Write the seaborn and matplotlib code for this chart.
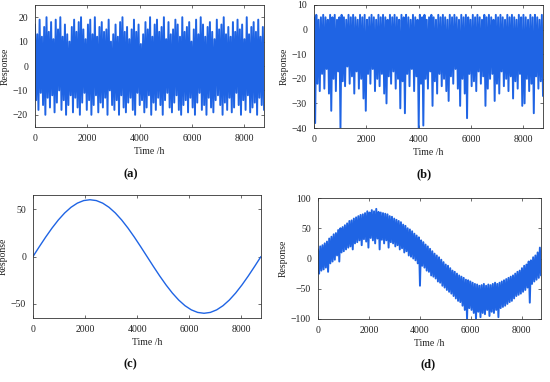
import numpy as np
import pandas as pd
import matplotlib
matplotlib.use("Agg")
import matplotlib.pyplot as plt
import seaborn as sns

# ---------------------------------------
# 0) Settings
# ---------------------------------------
sns.set_theme(style="ticks")
plt.rcParams["font.family"] = ["Liberation Serif", "DejaVu Serif"]
plt.rcParams["axes.unicode_minus"] = True

FIG_W, FIG_H = 550, 382
LINE_COLOR = "#1f64e4"
EDGE_COLOR = "#333333"
T_END = 8760  # hours in one year

X_TICKS = [0, 2000, 4000, 6000, 8000]

# ---------------------------------------
# 1) Data (decimated: alternating peak / trough)
# ---------------------------------------
# (a) zero-mean random response
resp_a = [
    17, -14, 13, -18, 19, -11, 12, -16, 16, -20, 20, -13, 14, -17, 18, -12, 11, -19, 19, -15,
    15, -10, 20, -18, 12, -14, 17, -20, 13, -16, 10, -12, 16, -19, 19, -13, 14, -17, 18, -20,
    20, -15, 15, -11, 11, -18, 17, -14, 19, -20, 13, -16, 20, -12, 12, -19, 16, -15, 18, -17,
    14, -13, 15, -20, 19, -10, 10, -16, 13, -18, 17, -14, 12, -20, 18, -12, 20, -17, 14, -19,
    16, -15, 11, -13, 15, -18, 19, -20, 14, -11, 17, -16, 9, -14, 13, -19, 18, -17, 15, -12,
    20, -20, 12, -15, 17, -18, 19, -13, 14, -16, 16, -20, 20, -14, 11, -11, 18, -17, 13, -19,
    15, -15, 19, -12, 17, -18, 12, -20, 20, -16, 14, -14, 16, -19, 18, -13, 10, -17, 15, -20,
    19, -15, 13, -11, 20, -18, 17, -16, 12, -20, 16, -13, 18, -17, 14, -19, 11, -14, 19, -12,
    15, -16, 17, -20, 20, -15, 13, -18, 16, -13, 12, -19, 18, -17, 14, -11, 19, -16, 15, -20,
    17, -14, 11, -18, 20, -12, 13, -19, 16, -17, 18, -15, 14, -20, 19, -13, 12, -16, 16, -18,
]

# (b) skewed response with deep downward spikes
resp_b = [
    5, -38, 6, -22, 4, -25, 5, -18, 6, -24, 5, -16, 4, -26, 6, -33, 5, -20, 6, -25,
    4, -17, 5, -40, 6, -21, 5, -23, 4, -15, 6, -22, 5, -19, 6, -26, 5, -17, 4, -24,
    6, -20, 5, -28, 6, -33, 4, -18, 5, -22, 6, -16, 5, -25, 4, -20, 6, -23, 5, -18,
    6, -26, 5, -30, 4, -19, 6, -22, 5, -17, 6, -24, 5, -20, 4, -32, 6, -21, 5, -34,
    6, -18, 5, -23, 4, -16, 6, -25, 5, -19, 4, -40, 6, -22, 5, -39, 6, -20, 4, -24,
    5, -17, 6, -31, 5, -21, 4, -26, 6, -18, 5, -23, 6, -20, 5, -25, 4, -29, 6, -19,
    5, -22, 6, -16, 5, -24, 4, -31, 6, -20, 5, -26, 6, -36, 5, -18, 4, -23, 6, -21,
    5, -25, 6, -17, 5, -22, 4, -19, 6, -31, 5, -24, 6, -20, 5, -18, 4, -29, 6, -22,
    5, -26, 6, -17, 5, -23, 4, -20, 6, -25, 5, -19, 6, -28, 5, -21, 4, -24, 6, -18,
    5, -31, 6, -30, 5, -20, 4, -25, 6, -22, 5, -34, 6, -19, 5, -24, 4, -21, 6, -27,
]

# (c) seasonal (annual) component
resp_c = [
    0, 10.4, 20.5, 30.0, 38.6, 46.0, 52.0, 56.4, 59.1, 60.0,
    59.1, 56.4, 52.0, 46.0, 38.6, 30.0, 20.5, 10.4, 0,
    -10.4, -20.5, -30.0, -38.6, -46.0, -52.0, -56.4, -59.1, -60.0,
    -59.1, -56.4, -52.0, -46.0, -38.6, -30.0, -20.5, -10.4, 0,
]

# (d) seasonal component plus noise
resp_d = [
    15, -25, 20, -20, 22, -18, 25, -15, 28, -22, 33, -8, 36, -5, 40, -2, 42, 5, 47, -5,
    50, 10, 52, 12, 55, 15, 58, 18, 62, 20, 63, 15, 66, 25, 68, 27, 70, 30, 72, 22,
    73, 32, 75, 28, 78, 18, 76, 34, 80, 30, 78, 25, 82, 33, 77, 15, 76, 31, 75, 25,
    74, 30, 73, 18, 70, 27, 69, 25, 66, 20, 64, 22, 62, 15, 60, 17, 56, 10, 54, 12,
    50, 5, 48, 3, 45, 0, 41, -3, 38, -8, 35, -45, 30, -12, 27, -15, 23, -20, 20, -22,
    16, -28, 12, -30, 8, -33, 5, -38, 2, -40, -2, -45, -6, -48, -10, -52, -12, -55, -16, -58,
    -20, -62, -22, -66, -25, -70, -28, -72, -30, -78, -32, -85, -35, -100, -36, -82, -38, -85, -40, -90,
    -42, -100, -43, -88, -45, -97, -44, -90, -42, -92, -45, -85, -43, -95, -44, -88, -42, -90, -40, -85,
    -42, -97, -40, -82, -38, -80, -36, -78, -34, -75, -32, -72, -30, -70, -28, -66, -25, -62, -22, -60,
    -20, -58, -16, -55, -12, -52, -10, -48, -5, -73, -3, -42, 2, -38, 5, -35, 10, -32, 18, -28,
]

# panel layout in pixels: left, top, right, bottom
PANELS = [
    dict(vals=resp_a, box=(35, 5, 264, 127), ylim=(-25, 25), yticks=[-20, -10, 0, 10, 20],
         letter="(a)", letter_xy=(131, 174), lw=1.4),
    dict(vals=resp_b, box=(314, 5, 543, 128), ylim=(-40, 10), yticks=[-40, -30, -20, -10, 0, 10],
         letter="(b)", letter_xy=(424, 174), lw=1.4),
    dict(vals=resp_c, box=(33, 195, 261, 318), ylim=(-65, 65), yticks=[-50, 0, 50],
         letter="(c)", letter_xy=(130, 364), lw=1.0),
    dict(vals=resp_d, box=(318, 198, 541, 319), ylim=(-100, 100), yticks=[-100, -50, 0, 50, 100],
         letter="(d)", letter_xy=(428, 364), lw=1.4),
]


def draw_panel(fig: plt.Figure, spec: dict) -> plt.Axes:
    """Draw one response-vs-time panel at a fixed pixel box."""
    l, t, r, b = spec["box"]
    ax = fig.add_axes([l / FIG_W, 1 - b / FIG_H, (r - l) / FIG_W, (b - t) / FIG_H])

    vals = spec["vals"]
    df = pd.DataFrame({"time": np.linspace(0, T_END, len(vals)), "response": vals})
    sns.lineplot(data=df, x="time", y="response", ax=ax, color=LINE_COLOR,
                 linewidth=spec["lw"], estimator=None, sort=False)

    ax.set_xlim(0, T_END)
    ax.set_ylim(*spec["ylim"])
    ax.set_xticks(X_TICKS)
    ax.set_yticks(spec["yticks"])
    ax.set_xlabel("Time /h", fontsize=7, labelpad=3, color="#222222")
    ax.set_ylabel("Response", fontsize=7, labelpad=2, color="#222222")

    ax.tick_params(direction="in", top=True, right=True, length=2.5, width=0.5,
                   labelsize=7, pad=5, colors=EDGE_COLOR, labelcolor="#222222")
    for s in ax.spines.values():
        s.set_linewidth(0.6)
        s.set_color(EDGE_COLOR)

    lx, ly = spec["letter_xy"]
    fig.text(lx / FIG_W, 1 - ly / FIG_H, spec["letter"], fontsize=9, fontweight="bold",
             ha="center", va="center", color="#111111")
    return ax


def main() -> None:
    fig = plt.figure(figsize=(FIG_W / 100, FIG_H / 100), dpi=100)
    fig.patch.set_facecolor("white")
    for spec in PANELS:
        draw_panel(fig, spec)
    fig.savefig("out.png", dpi=100)
    plt.close(fig)


if __name__ == "__main__":
    main()
